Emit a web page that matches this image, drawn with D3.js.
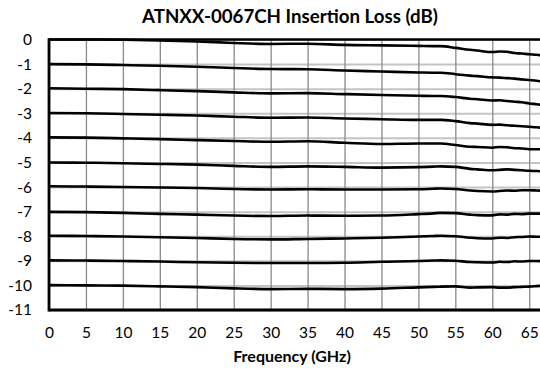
<!DOCTYPE html>
<html>
<head>
<meta charset="utf-8">
<script src="https://cdn.jsdelivr.net/npm/d3@7"></script>
<style>
  html, body { margin: 0; padding: 0; background: #fff; }
  svg { display: block; }
  text { font-family: Lato, "Liberation Sans", Arial, sans-serif; fill: #000; }
</style>
</head>
<body>
<svg id="chart" width="540" height="369"></svg>
<script>
// Frequency sample points (GHz)
const freqGHz = [0, 5, 10, 15, 20, 25, 30, 35, 40, 45, 50, 52, 53, 55, 57, 58, 60, 61, 62, 63, 64, 65, 66, 67];

// Insertion loss (dB) for each attenuator setting, 0 dB to 10 dB
const il0  = [0, 0, -0.01, -0.04, -0.08, -0.14, -0.18, -0.17, -0.22, -0.24, -0.26, -0.27, -0.27, -0.34, -0.42, -0.45, -0.51, -0.49, -0.5, -0.55, -0.57, -0.6, -0.62, -0.66];
const il1  = [-1, -1.01, -1.04, -1.07, -1.11, -1.16, -1.2, -1.21, -1.26, -1.3, -1.34, -1.35, -1.35, -1.41, -1.47, -1.49, -1.54, -1.55, -1.57, -1.59, -1.62, -1.65, -1.68, -1.72];
const il2  = [-1.98, -2.0, -2.02, -2.06, -2.1, -2.15, -2.19, -2.18, -2.22, -2.26, -2.29, -2.3, -2.3, -2.34, -2.41, -2.43, -2.48, -2.47, -2.5, -2.53, -2.55, -2.6, -2.63, -2.67];
const il3  = [-2.99, -3.0, -3.03, -3.06, -3.09, -3.14, -3.18, -3.17, -3.21, -3.24, -3.27, -3.27, -3.27, -3.32, -3.4, -3.42, -3.47, -3.46, -3.49, -3.51, -3.53, -3.55, -3.57, -3.6];
const il4  = [-3.98, -3.99, -4.02, -4.05, -4.09, -4.13, -4.16, -4.14, -4.2, -4.25, -4.23, -4.23, -4.23, -4.29, -4.36, -4.37, -4.4, -4.37, -4.38, -4.42, -4.43, -4.46, -4.46, -4.48];
const il5  = [-5.0, -5.01, -5.03, -5.06, -5.09, -5.14, -5.18, -5.16, -5.18, -5.21, -5.19, -5.17, -5.16, -5.18, -5.26, -5.28, -5.32, -5.3, -5.28, -5.3, -5.32, -5.34, -5.35, -5.37];
const il6  = [-5.97, -5.98, -6.0, -6.02, -6.04, -6.08, -6.1, -6.09, -6.1, -6.1, -6.09, -6.07, -6.06, -6.08, -6.14, -6.16, -6.18, -6.16, -6.14, -6.15, -6.13, -6.13, -6.14, -6.15];
const il7  = [-7.01, -7.02, -7.05, -7.09, -7.12, -7.16, -7.18, -7.16, -7.17, -7.16, -7.1, -7.07, -7.05, -7.06, -7.12, -7.14, -7.15, -7.11, -7.12, -7.09, -7.1, -7.08, -7.08, -7.08];
const il8  = [-7.98, -7.99, -8.01, -8.04, -8.07, -8.11, -8.13, -8.11, -8.09, -8.06, -8.01, -7.99, -7.98, -8.0, -8.06, -8.08, -8.09, -8.06, -8.07, -8.04, -8.03, -8.01, -8.02, -8.02];
const il9  = [-8.98, -8.99, -9.01, -9.03, -9.06, -9.08, -9.09, -9.09, -9.08, -9.04, -9.01, -8.99, -8.98, -9.0, -9.05, -9.06, -9.07, -9.04, -9.05, -9.02, -9.03, -9.01, -9.01, -9.02];
const il10 = [-9.99, -10.0, -10.01, -10.04, -10.07, -10.12, -10.15, -10.14, -10.15, -10.13, -10.08, -10.06, -10.05, -10.04, -10.09, -10.08, -10.07, -10.09, -10.09, -10.07, -10.06, -10.05, -10.03, -10.01];

const seriesList = [il0, il1, il2, il3, il4, il5, il6, il7, il8, il9, il10];

// Axis ticks and labels
const xTicks = [0, 5, 10, 15, 20, 25, 30, 35, 40, 45, 50, 55, 60, 65];
const yTicks = [0, -1, -2, -3, -4, -5, -6, -7, -8, -9, -10, -11];
const yTickLabels = ["0", "-1", "-2", "-3", "-4", "-5", "-6", "-7", "-8", "-9", "-10", "-11"];

const titleText = "ATNXX-0067CH Insertion Loss (dB)";
const xAxisTitle = "Frequency (GHz)";

const svg = d3.select("#chart");
const plotLeft = 49, plotRight = 544, plotTop = 39.5, plotBottom = 310;

const x = d3.scaleLinear().domain([0, 67]).range([plotLeft, plotRight]);
const y = d3.scaleLinear().domain([-11, 0]).range([plotBottom, plotTop]);

// Horizontal gridlines
svg.append("g")
  .attr("transform", `translate(${plotLeft},0)`)
  .call(d3.axisLeft(y).tickValues(yTicks).tickSize(-(plotRight - plotLeft)).tickFormat(""))
  .call(g => g.select(".domain").remove())
  .call(g => g.selectAll("line").attr("stroke", "#c4c4c4").attr("stroke-width", 2));

// Vertical gridlines
svg.append("g")
  .attr("transform", `translate(0,${plotBottom})`)
  .call(d3.axisBottom(x).tickValues(xTicks).tickSize(-(plotBottom - plotTop)).tickFormat(""))
  .call(g => g.select(".domain").remove())
  .call(g => g.selectAll("line").attr("stroke", "#8a8a8a").attr("stroke-width", 1.3));

// Loss curves
const line = d3.line()
  .x((d, i) => x(freqGHz[i]))
  .y(d => y(d))
  .curve(d3.curveMonotoneX);

svg.append("g")
  .selectAll("path")
  .data(seriesList)
  .join("path")
  .attr("d", line)
  .attr("fill", "none")
  .attr("stroke", "#000")
  .attr("stroke-width", 2.6)
  .attr("stroke-linejoin", "round");

// Plot frame: top, left and bottom edges
svg.append("line").attr("x1", plotLeft).attr("x2", plotRight).attr("y1", plotTop).attr("y2", plotTop)
  .attr("stroke", "#000").attr("stroke-width", 2.6);
svg.append("line").attr("x1", plotLeft).attr("x2", plotRight).attr("y1", plotBottom).attr("y2", plotBottom)
  .attr("stroke", "#000").attr("stroke-width", 2.8);
svg.append("line").attr("x1", plotLeft).attr("x2", plotLeft).attr("y1", plotTop - 1.3).attr("y2", plotBottom + 1.4)
  .attr("stroke", "#000").attr("stroke-width", 2.8);

// Y axis labels
svg.append("g")
  .attr("transform", `translate(${plotLeft},0)`)
  .call(d3.axisLeft(y).tickValues(yTicks).tickSize(0).tickPadding(17)
    .tickFormat((d, i) => yTickLabels[i]))
  .call(g => g.select(".domain").remove())
  .call(g => g.selectAll("text")
    .style("font-family", "Lato, 'Liberation Sans', Arial, sans-serif")
    .style("font-size", "15.5px").attr("fill", "#000"));

// X axis labels
svg.append("g")
  .attr("transform", `translate(0,${plotBottom})`)
  .call(d3.axisBottom(x).tickValues(xTicks).tickSize(0).tickPadding(17))
  .call(g => g.select(".domain").remove())
  .call(g => g.selectAll("text")
    .style("font-family", "Lato, 'Liberation Sans', Arial, sans-serif")
    .style("font-size", "15.5px").attr("fill", "#000"));

// Titles
svg.append("text")
  .attr("x", 290).attr("y", 23)
  .attr("text-anchor", "middle")
  .style("font-weight", "bold").style("font-size", "18.7px")
  .text(titleText);

svg.append("text")
  .attr("x", 292).attr("y", 362)
  .attr("text-anchor", "middle")
  .style("font-weight", "bold").style("font-size", "16px")
  .text(xAxisTitle);
</script>
</body>
</html>
